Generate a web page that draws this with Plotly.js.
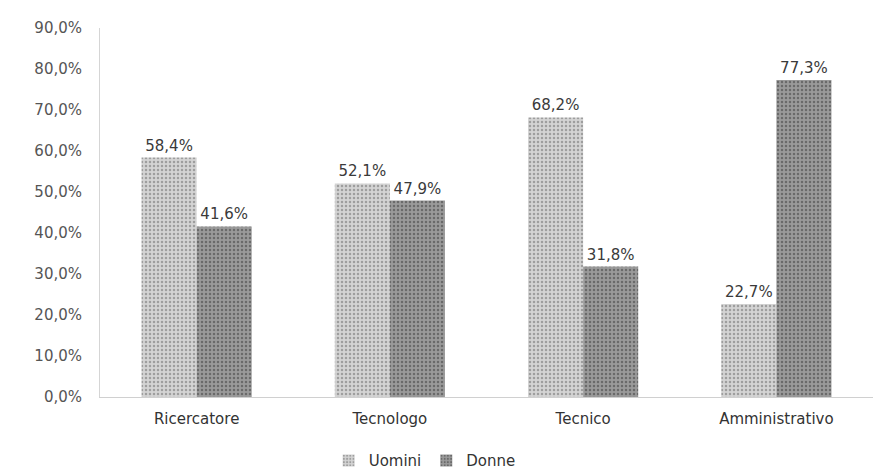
<!DOCTYPE html>
<html>
<head>
<meta charset="utf-8">
<script src="https://cdn.plot.ly/plotly-3.0.1.min.js"></script>
<style>html,body{margin:0;padding:0;background:#fff;}#chart{width:883px;height:475px;}</style>
</head>
<body>
<div id="chart"></div>
<script>
const categories = ["Ricercatore", "Tecnologo", "Tecnico", "Amministrativo"];
const uomini = [58.4, 52.1, 68.2, 22.7];
const donne = [41.6, 47.9, 31.8, 77.3];
const yTickVals = [0, 10, 20, 30, 40, 50, 60, 70, 80, 90];
const yTickText = ["0,0%", "10,0%", "20,0%", "30,0%", "40,0%", "50,0%", "60,0%", "70,0%", "80,0%", "90,0%"];

const fmt = v => v.toFixed(1).replace('.', ',') + '%';
const FONT = 'DejaVu Sans, Verdana, sans-serif';

const traces = [
  {
    type: 'bar', name: 'Uomini', x: categories, y: uomini,
    text: uomini.map(fmt), textposition: 'outside', cliponaxis: false,
    textfont: {family: FONT, size: 15, color: '#3a3a3a'},
    marker: {color: '#cbcbcb', line: {width: 0},
      pattern: {shape: '.', fgcolor: '#9e9e9e', bgcolor: '#d4d4d4', size: 4, solidity: 0.3}}
  },
  {
    type: 'bar', name: 'Donne', x: categories, y: donne,
    text: donne.map(fmt), textposition: 'outside', cliponaxis: false,
    textfont: {family: FONT, size: 15, color: '#3a3a3a'},
    marker: {color: '#8e8e8e', line: {width: 0},
      pattern: {shape: '.', fgcolor: '#6a6a6a', bgcolor: '#9a9a9a', size: 4, solidity: 0.3}}
  }
];

const layout = {
  width: 883, height: 475,
  margin: {l: 100, r: 10, t: 28, b: 78},
  paper_bgcolor: '#ffffff', plot_bgcolor: '#ffffff',
  font: {family: FONT, size: 15, color: '#444'},
  barmode: 'group', bargap: 0.43, bargroupgap: 0,
  showlegend: true,
  legend: {orientation: 'h', x: 0.42, xanchor: 'center', yref: 'container', y: 0.03, yanchor: 'middle',
    font: {family: FONT, size: 15, color: '#333'}, itemwidth: 30, tracegroupgap: 0},
  xaxis: {showgrid: false, zeroline: false, showline: true, linecolor: '#d0d0d0', linewidth: 1,
    tickfont: {family: FONT, size: 15, color: '#333'}, ticks: '', automargin: false, ticklabelstandoff: 8},
  yaxis: {range: [0, 90], tickvals: yTickVals, ticktext: yTickText, showgrid: false,
    zeroline: false, showline: true, linecolor: '#d5d5d5', linewidth: 1,
    tickfont: {family: FONT, size: 15, color: '#555'}, ticks: '', ticklabelstandoff: 14, automargin: false}
};

Plotly.newPlot('chart', traces, layout, {displayModeBar: false, staticPlot: true});
</script>
</body>
</html>
